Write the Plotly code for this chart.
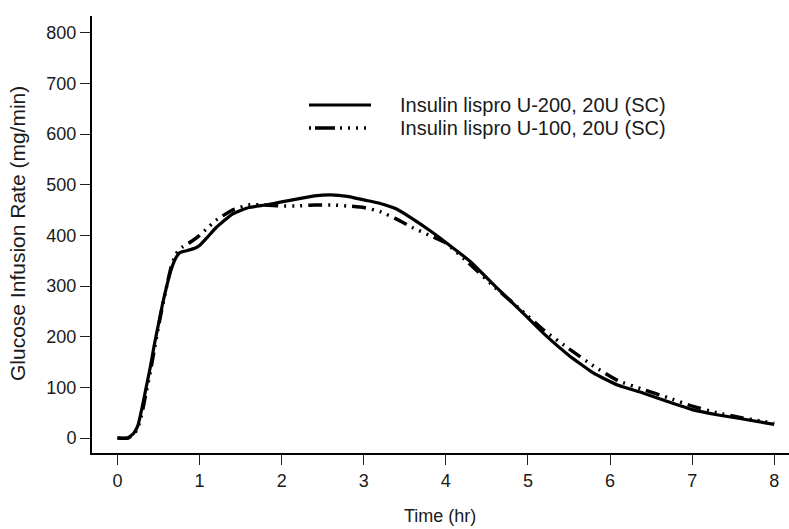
import plotly.graph_objects as go

# ---- data ----
time_u200 = [0, 0.13, 0.2, 0.25, 0.3, 0.35, 0.4, 0.45, 0.5, 0.55, 0.6, 0.65, 0.7, 0.76,
             0.85, 0.95, 1.0, 1.1, 1.2, 1.4, 1.6, 1.8, 2.0, 2.2, 2.4, 2.6, 2.8, 3.0,
             3.2, 3.4, 3.6, 3.8, 4.0, 4.3, 4.6, 4.9, 5.2, 5.5, 5.8, 6.1, 6.4, 6.7,
             7.0, 7.3, 7.6, 8.0]
gir_u200 = [0, 0, 10, 25, 60, 100, 140, 185, 225, 265, 300, 330, 352, 366,
            370, 375, 380, 397, 415, 442, 455, 460, 466, 472, 478, 480, 477, 470,
            463, 452, 432, 410, 386, 348, 300, 253, 205, 163, 128, 104, 89, 72,
            56, 46, 38, 27]

time_u100 = [0, 0.13, 0.2, 0.25, 0.3, 0.35, 0.4, 0.45, 0.5, 0.55, 0.6, 0.65, 0.7, 0.75,
             0.8, 0.9, 1.0, 1.1, 1.2, 1.4, 1.6, 1.8, 2.0, 2.2, 2.4, 2.6, 2.8, 3.0,
             3.2, 3.4, 3.6, 3.8, 4.0, 4.3, 4.6, 4.9, 5.2, 5.5, 5.8, 6.1, 6.4, 6.7,
             7.0, 7.3, 7.6, 8.0]
gir_u100 = [0, 0, 8, 20, 50, 90, 130, 175, 220, 262, 300, 335, 360, 372,
            378, 388, 400, 415, 430, 450, 460, 460, 458, 458, 460, 460, 458, 455,
            447, 432, 415, 400, 385, 342, 297, 255, 212, 176, 142, 113, 96, 80,
            63, 50, 40, 29]

series_names = ["Insulin lispro U-200, 20U (SC)", "Insulin lispro U-100, 20U (SC)"]
x_ticks = [0, 1, 2, 3, 4, 5, 6, 7, 8]
y_ticks = [0, 100, 200, 300, 400, 500, 600, 700, 800]
x_title = "Time (hr)"
y_title = "Glucose Infusion Rate (mg/min)"

# ---- layout geometry ----
W, H = 789, 529
L, R, T, B = 92, 0, 16, 76
PW, PH = W - L - R, H - T - B
FONT = "Liberation Sans, Arial, sans-serif"
TXT = "#1a1a1a"
DASH = "14px,6px,2px,6px,2px,6px,2px,6px"


def px(x):
    return (x - L) / PW


def py(y):
    return (H - B - y) / PH


fig = go.Figure()
fig.add_trace(go.Scatter(x=time_u100, y=gir_u100, mode="lines", name=series_names[1],
                         line=dict(color="black", width=3.5, dash=DASH, shape="spline", smoothing=0.4),
                         showlegend=False))
fig.add_trace(go.Scatter(x=time_u200, y=gir_u200, mode="lines", name=series_names[0],
                         line=dict(color="black", width=3.2, shape="spline", smoothing=0.4),
                         showlegend=False))

# legend drawn manually to match the long line samples
leg_y = [104, 127]
leg_dash = ["solid", "2px,4px,20px,5px,2px,6px,2px,6px,2px,6px,2px,6px"]
leg_w = [3.2, 3.5]
for i in range(2):
    fig.add_shape(type="line", xref="paper", yref="paper",
                  x0=px(309), x1=px(371), y0=py(leg_y[i] + 1), y1=py(leg_y[i] + 1),
                  line=dict(color="black", width=leg_w[i], dash=leg_dash[i]))
    fig.add_annotation(xref="paper", yref="paper", x=px(399), y=py(leg_y[i] + 1),
                       text=series_names[i], showarrow=False, xanchor="left", yanchor="middle",
                       borderpad=0, font=dict(family=FONT, size=20, color=TXT))

fig.add_annotation(xref="paper", yref="paper", x=px(18), y=py(234), text=y_title,
                   textangle=-90, showarrow=False, xanchor="center", yanchor="middle",
                   font=dict(family=FONT, size=21, color=TXT))
fig.add_annotation(xref="paper", yref="paper", x=px(440), y=py(516), text=x_title,
                   showarrow=False, xanchor="center", yanchor="middle",
                   font=dict(family=FONT, size=18, color=TXT))

axis_common = dict(showgrid=False, zeroline=False, showline=True, linecolor="black", linewidth=2,
                   ticks="outside", ticklen=10, tickwidth=1.2, tickcolor="#222",
                   tickfont=dict(family=FONT, size=18, color=TXT))
fig.update_xaxes(range=[-0.31, 8.18], tickvals=x_ticks, **axis_common)
fig.update_yaxes(range=[-29.6, 833], tickvals=y_ticks, **axis_common)

fig.update_layout(width=W, height=H, margin=dict(l=L, r=R, t=T, b=B),
                  paper_bgcolor="white", plot_bgcolor="white", showlegend=False)

fig.write_html("out.html")
